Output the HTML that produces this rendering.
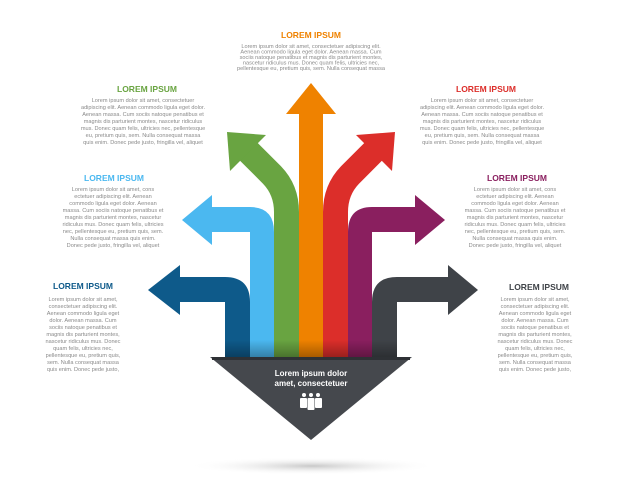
<!DOCTYPE html>
<html><head><meta charset="utf-8"><style>
html,body{margin:0;padding:0;background:#fff;}
svg{display:block;}
text{font-family:"Liberation Sans",Arial,sans-serif;}
.t{font-size:5.6px;fill:#8a8a8a;text-anchor:middle;}
.h{font-size:8.5px;font-weight:bold;text-anchor:middle;}
</style></head><body>
<svg width="623" height="500" viewBox="0 0 623 500" xmlns="http://www.w3.org/2000/svg">
<defs>
<radialGradient id="sh" cx="50%" cy="50%" r="50%">
<stop offset="0" stop-color="#c8c8c8"/><stop offset="1" stop-color="#fff" stop-opacity="0"/>
</radialGradient>
<linearGradient id="bot" x1="0" y1="0" x2="0" y2="1">
<stop offset="0" stop-color="#000" stop-opacity="0"/><stop offset="1" stop-color="#000" stop-opacity="0.3"/>
</linearGradient>
</defs>
<ellipse cx="312" cy="466" rx="125" ry="9" fill="url(#sh)"/>

<!-- dark blue -->
<path d="M180,277 H225 Q250,277 250,302 V357 H225 V302 H180 Z" fill="#0e5a8a"/>
<polygon points="180,265 148,290 180,315" fill="#0e5a8a"/>
<!-- dark gray -->
<path d="M448,277 H397 Q372,277 372,302 V357 H397 V302 H448 Z" fill="#3f4348"/>
<polygon points="448,265 478,290 448,315" fill="#3f4348"/>
<!-- light blue -->
<path d="M212,207 H250 Q274,207 274,232 V357 H250 V232 H212 Z" fill="#4bb8f0"/>
<polygon points="212,195 182,220 212,245" fill="#4bb8f0"/>
<!-- purple -->
<path d="M415,207 H372 Q348,207 348,232 V357 H372 V232 H415 Z" fill="#8a1f5f"/>
<polygon points="415,195 445,220 415,245" fill="#8a1f5f"/>
<!-- green -->
<path d="M286.5,357 V212 Q286.5,190 272,175 L248,151" stroke="#69a441" stroke-width="25" fill="none"/>
<polygon points="227,132 266,135 230,171" fill="#69a441"/>
<!-- red -->
<path d="M335.5,357 V212 Q335.5,190 350,175 L374,151" stroke="#dc2e2a" stroke-width="25" fill="none"/>
<polygon points="395,132 356,135 392,171" fill="#dc2e2a"/>
<!-- orange -->
<rect x="299" y="112" width="24" height="245" fill="#ef8200"/>
<polygon points="286,114 311,83 336,114" fill="#ef8200"/>
<!-- bottom shading on columns -->
<rect x="225" y="340" width="172" height="17" fill="url(#bot)"/>

<!-- triangle -->
<polygon points="210,357 412,357 311,440" fill="#45484d"/>
<rect x="212" y="357" width="198" height="3" fill="#2e3135"/>
<text x="311" y="376" fill="#fff" font-size="8" font-weight="bold" text-anchor="middle">Lorem ipsum dolor</text>
<text x="311" y="386" fill="#fff" font-size="8" font-weight="bold" text-anchor="middle">amet, consectetuer</text>
<g fill="#fff">
<circle cx="304" cy="395" r="2"/><circle cx="311" cy="395" r="2"/><circle cx="318" cy="395" r="2"/>
<rect x="300" y="398" width="7" height="10" rx="1"/><rect x="307.5" y="398" width="7" height="12" rx="1"/><rect x="315" y="398" width="7" height="10" rx="1"/>
</g>

<!-- top -->
<text class="h" x="311" y="38" fill="#ef8200">LOREM IPSUM</text>
<g class="t">
<text x="311" y="48">Lorem ipsum dolor sit amet, consectetuer adipiscing elit.</text>
<text x="311" y="53.5">Aenean commodo ligula eget dolor. Aenean massa. Cum</text>
<text x="311" y="59">sociis natoque penatibus et magnis dis parturient montes,</text>
<text x="311" y="64.5">nascetur ridiculus mus. Donec quam felis, ultricies nec,</text>
<text x="311" y="70">pellentesque eu, pretium quis, sem. Nulla consequat massa</text>
</g>

<!-- green -->
<text class="h" x="147" y="92" fill="#69a441">LOREM IPSUM</text>
<g class="t">
<text x="143" y="102">Lorem ipsum dolor sit amet, consectetuer</text>
<text x="143" y="109">adipiscing elit. Aenean commodo ligula eget dolor.</text>
<text x="143" y="116">Aenean massa. Cum sociis natoque penatibus et</text>
<text x="143" y="123">magnis dis parturient montes, nascetur ridiculus</text>
<text x="143" y="130">mus. Donec quam felis, ultricies nec, pellentesque</text>
<text x="143" y="137">eu, pretium quis, sem. Nulla consequat massa</text>
<text x="143" y="144">quis enim. Donec pede justo, fringilla vel, aliquet</text>
</g>

<!-- red -->
<text class="h" x="486" y="92" fill="#dc2e2a">LOREM IPSUM</text>
<g class="t">
<text x="482" y="102">Lorem ipsum dolor sit amet, consectetuer</text>
<text x="482" y="109">adipiscing elit. Aenean commodo ligula eget dolor.</text>
<text x="482" y="116">Aenean massa. Cum sociis natoque penatibus et</text>
<text x="482" y="123">magnis dis parturient montes, nascetur ridiculus</text>
<text x="482" y="130">mus. Donec quam felis, ultricies nec, pellentesque</text>
<text x="482" y="137">eu, pretium quis, sem. Nulla consequat massa</text>
<text x="482" y="144">quis enim. Donec pede justo, fringilla vel, aliquet</text>
</g>

<!-- light blue -->
<text class="h" x="114" y="181" fill="#4bb8f0">LOREM IPSUM</text>
<g class="t">
<text x="113" y="191">Lorem ipsum dolor sit amet, cons</text>
<text x="113" y="198">ectetuer adipiscing elit. Aenean</text>
<text x="113" y="205">commodo ligula eget dolor. Aenean</text>
<text x="113" y="212">massa. Cum sociis natoque penatibus et</text>
<text x="113" y="219">magnis dis parturient montes, nascetur</text>
<text x="113" y="226">ridiculus mus. Donec quam felis, ultricies</text>
<text x="113" y="233">nec, pellentesque eu, pretium quis, sem.</text>
<text x="113" y="240">Nulla consequat massa quis enim.</text>
<text x="113" y="247">Donec pede justo, fringilla vel, aliquet</text>
</g>

<!-- purple -->
<text class="h" x="517" y="181" fill="#8a1f5f">LOREM IPSUM</text>
<g class="t">
<text x="515" y="191">Lorem ipsum dolor sit amet, cons</text>
<text x="515" y="198">ectetuer adipiscing elit. Aenean</text>
<text x="515" y="205">commodo ligula eget dolor. Aenean</text>
<text x="515" y="212">massa. Cum sociis natoque penatibus et</text>
<text x="515" y="219">magnis dis parturient montes, nascetur</text>
<text x="515" y="226">ridiculus mus. Donec quam felis, ultricies</text>
<text x="515" y="233">nec, pellentesque eu, pretium quis, sem.</text>
<text x="515" y="240">Nulla consequat massa quis enim.</text>
<text x="515" y="247">Donec pede justo, fringilla vel, aliquet</text>
</g>

<!-- dark blue -->
<text class="h" x="83" y="289" fill="#0e5a8a">LOREM IPSUM</text>
<g class="t">
<text x="83" y="301">Lorem ipsum dolor sit amet,</text>
<text x="83" y="308">consectetuer adipiscing elit.</text>
<text x="83" y="315">Aenean commodo ligula eget</text>
<text x="83" y="322">dolor. Aenean massa. Cum</text>
<text x="83" y="329">sociis natoque penatibus et</text>
<text x="83" y="336">magnis dis parturient montes,</text>
<text x="83" y="343">nascetur ridiculus mus. Donec</text>
<text x="83" y="350">quam felis, ultricies nec,</text>
<text x="83" y="357">pellentesque eu, pretium quis,</text>
<text x="83" y="364">sem. Nulla consequat massa</text>
<text x="83" y="371">quis enim. Donec pede justo,</text>
</g>

<!-- dark gray -->
<text class="h" x="539" y="290" fill="#3f4348">LOREM IPSUM</text>
<g class="t">
<text x="535" y="301">Lorem ipsum dolor sit amet,</text>
<text x="535" y="308">consectetuer adipiscing elit.</text>
<text x="535" y="315">Aenean commodo ligula eget</text>
<text x="535" y="322">dolor. Aenean massa. Cum</text>
<text x="535" y="329">sociis natoque penatibus et</text>
<text x="535" y="336">magnis dis parturient montes,</text>
<text x="535" y="343">nascetur ridiculus mus. Donec</text>
<text x="535" y="350">quam felis, ultricies nec,</text>
<text x="535" y="357">pellentesque eu, pretium quis,</text>
<text x="535" y="364">sem. Nulla consequat massa</text>
<text x="535" y="371">quis enim. Donec pede justo,</text>
</g>
</svg>
</body></html>
